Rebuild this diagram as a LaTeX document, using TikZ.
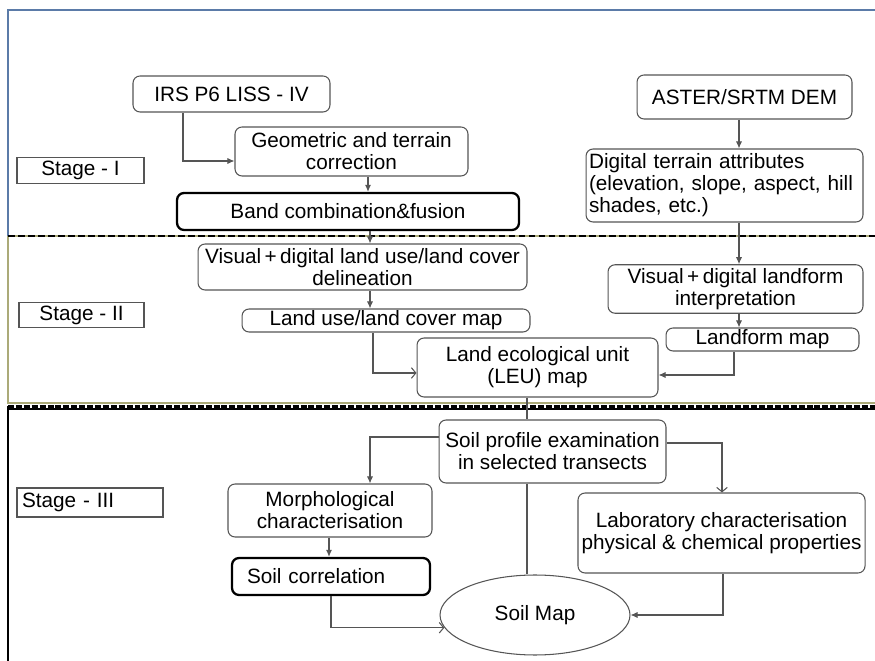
\documentclass[tikz,border=0pt]{standalone}
\usepackage{fontspec}
\setmainfont{Liberation Sans}
\usetikzlibrary{arrows.meta,shapes.geometric}
\definecolor{cadre}{HTML}{5B7BA8}
\definecolor{kaki}{HTML}{ABAA78}
\definecolor{trait}{HTML}{555555}
\begin{document}
\begin{tikzpicture}[x=0.02cm, y=-0.02cm]
\tikzstyle{boite} = [draw=trait, rounded corners=4pt, line width=0.6pt, inner sep=2pt, align=center, font=\fontsize{11.8}{12.6}\selectfont]
\tikzstyle{boitegras} = [boite, draw=black, line width=1.3pt]
\tikzstyle{etape} = [draw=trait, line width=0.6pt, inner sep=2pt, font=\fontsize{11.8}{12.6}\selectfont]
\tikzstyle{lien} = [draw=trait, line width=0.6pt]
\tikzstyle{fleche} = [lien, -{Latex[length=4pt,width=3.5pt]}]
\tikzstyle{ouverte} = [lien, -{Straight Barb[length=2.5pt,width=6pt]}]
\useasboundingbox (0,0) rectangle (875,661);
\draw[cadre, line width=1pt] (8,236) -- (8,10) -- (875,10);
\draw[kaki, line width=1pt] (8,236) -- (8,403) -- (875,403);
\draw[kaki, line width=1pt] (8,236) -- (875,236);
\draw[black, line width=1.1pt, dash pattern=on 3.8pt off 1.9pt] (8,236) -- (875,236);
\draw[black, line width=1.5pt, dash pattern=on 3.4pt off 1.1pt] (8,406.5) -- (875,406.5);
\draw[black, line width=0.8pt] (8,409) -- (875,409);
\draw[black, line width=1.2pt] (8,406) -- (8,661);
\node[etape, minimum width=2.54cm, minimum height=0.50cm] (E1) at (80.5,170.5) {Stage - I};
\node[etape, minimum width=2.50cm, minimum height=0.48cm] (E2) at (81.5,315) {Stage - II};
\node[etape, text width=2.72cm, inner xsep=0.1cm, minimum height=0.58cm, align=left] (E3) at (90,502.5) {Stage - III};
\node[boite, minimum width=3.94cm, minimum height=0.72cm] (irs) at (231.5,94) {IRS P6 LISS - IV};
\node[boite, minimum width=4.66cm, minimum height=0.98cm] (geo) at (351.5,151.5) {Geometric and terrain\\correction};
\node[boitegras, minimum width=6.84cm, minimum height=0.74cm] (band) at (348,211.5) {Band combination\&fusion};
\node[boite, minimum width=4.30cm, minimum height=0.88cm] (aster) at (744.5,97) {ASTER/SRTM DEM};
\node[boite, text width=5.42cm, inner xsep=0.06cm, minimum height=1.46cm, align=left] (dta) at (724.5,185.5) {Digital terrain attributes\\(elevation, slope, aspect, hill\\shades, etc.)};
\node[boite, minimum width=6.58cm, minimum height=0.92cm] (vlu) at (362.5,267) {Visual\,+\,digital land use/land cover\\delineation};
\node[boite, minimum width=5.76cm, minimum height=0.46cm, inner sep=0pt] (lumap) at (386,320.5) {Land use/land cover map};
\node[boite, minimum width=4.82cm, minimum height=1.18cm] (leu) at (537.5,367.5) {Land ecological unit\\(LEU) map};
\node[boite, minimum width=5.10cm, minimum height=0.84cm] (vlf) at (735.5,289) {Visual\,+\,digital landform\\interpretation};
\node[boite, minimum width=3.86cm, minimum height=0.46cm, inner sep=0pt] (lfmap) at (762.5,339.5) {Landform map};
\node[boite, minimum width=4.54cm, minimum height=1.26cm] (prof) at (552.5,451.5) {Soil profile examination\\in selected transects};
\node[boite, minimum width=4.08cm, minimum height=1.06cm] (morph) at (330,510.5) {Morphological\\characterisation};
\node[boitegras, text width=3.36cm, inner xsep=0.3cm, minimum height=0.74cm, align=left] (corr) at (331,576.5) {Soil correlation};
\node[boite, minimum width=5.66cm, minimum height=1.60cm] (lab) at (721.5,533) {Laboratory characterisation\\physical \& chemical properties};
\node[ellipse, draw=trait, line width=0.6pt, minimum width=3.8cm, minimum height=1.6cm, inner sep=0pt, font=\fontsize{11.8}{12.6}\selectfont] (soilmap) at (535,615) {Soil Map};
\draw[fleche] (183,0 |- irs.south) |- ([yshift=-0.19cm]geo.west);
\draw[fleche] (368,0 |- geo.south) -- (368,0 |- band.north);
\draw[fleche] (370,0 |- band.south) -- (370,0 |- vlu.north);
\draw[fleche] (370,0 |- vlu.south) -- (370,0 |- lumap.north);
\draw[ouverte] (373,0 |- lumap.south) |- ([yshift=-0.11cm]leu.west);
\draw[fleche] (739,0 |- aster.south) -- (739,0 |- dta.north);
\draw[fleche] (739,0 |- dta.south) -- (739,0 |- vlf.north);
\draw[fleche] (739,0 |- vlf.south) -- (739,0 |- lfmap.north);
\draw[fleche] (734,0 |- lfmap.south) |- ([yshift=-0.15cm]leu.east);
\draw[lien] (527,0 |- leu.south) -- (527,0 |- prof.north);
\draw[fleche] ([yshift=0.29cm]prof.west) -| (370,0 |- morph.north);
\draw[ouverte] ([yshift=0.17cm]prof.east) -| (722,0 |- lab.north);
\draw[fleche] (329,0 |- morph.south) -- (329,0 |- corr.north);
\draw[ouverte] (331,0 |- corr.south) |- (soilmap.188);
\draw[fleche] (723,0 |- lab.south) |- (soilmap.east);
\draw[lien] (527,0 |- prof.south) -- (527,0 |- soilmap.north);
\end{tikzpicture}
\end{document}
